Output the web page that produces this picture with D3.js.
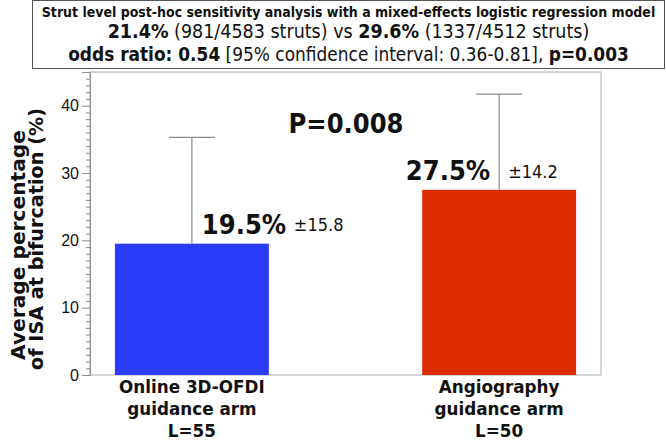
<!DOCTYPE html>
<html><head><meta charset="utf-8">
<script src="https://cdn.jsdelivr.net/npm/d3@7/dist/d3.min.js"></script>
<style>body{margin:0;background:#fff}svg{display:block}</style>
</head><body><svg id="c" width="666" height="440"></svg>
<script>
const categories = ["Online 3D-OFDI|guidance arm|L=55", "Angiography|guidance arm|L=50"];
const means = [19.5, 27.5];
const sds = [15.8, 14.2];
const meanLabels = ["19.5%", "27.5%"];
const sdLabels = ["±15.8", "±14.2"];
const colors = ["#2b3cf7", "#dc2b00"];
const yTicks = [0, 10, 20, 30, 40];
const pLabel = "P=0.008";

const svg = d3.select("#c");
const pL = 90, pR = 601, pT = 72, pB = 375;
const y = d3.scaleLinear().domain([0, 45]).range([pB, pT]);
const x = d3.scaleBand().domain(categories).range([pL, pR]).paddingInner(0.499).paddingOuter(0.081);
const gray = "#8c8c8c";
const bf = "DejaVu Sans Condensed, DejaVu Sans, sans-serif";
const wf = "DejaVu Sans, Verdana, sans-serif";

function fit(sel, target) {
  const w = sel.node().getComputedTextLength();
  const fs = parseFloat(sel.attr("font-size"));
  sel.attr("font-size", fs * target / w);
}

// Title box
svg.append("rect").attr("x", 32.5).attr("y", 0.5).attr("width", 632).attr("height", 68)
  .attr("fill", "#fff").attr("stroke", "#555").attr("stroke-width", 1);
const cx = 348.5;
const t1 = svg.append("text").attr("x", cx).attr("y", 16.5).attr("text-anchor", "middle")
  .attr("font-family", bf).attr("font-weight", "bold").attr("font-size", 13).attr("fill", "#111")
  .text("Strut level post-hoc sensitivity analysis with a mixed-effects logistic regression model");
fit(t1, 614);
const t2 = svg.append("text").attr("x", cx).attr("y", 38).attr("text-anchor", "middle")
  .attr("font-family", bf).attr("font-size", 17).attr("fill", "#111");
t2.append("tspan").attr("font-weight", "bold").text("21.4%");
t2.append("tspan").text(" (981/4583 struts) vs ");
t2.append("tspan").attr("font-weight", "bold").text("29.6%");
t2.append("tspan").text(" (1337/4512 struts)");
fit(t2, 482);
const t3 = svg.append("text").attr("x", cx).attr("y", 61).attr("text-anchor", "middle")
  .attr("font-family", bf).attr("font-size", 17).attr("fill", "#111");
t3.append("tspan").attr("font-weight", "bold").text("odds ratio: 0.54");
t3.append("tspan").text(" [95% confidence interval: 0.36-0.81], ");
t3.append("tspan").attr("font-weight", "bold").text("p=0.003");
fit(t3, 561);

// Frame
svg.append("rect").attr("x", pL).attr("y", pT).attr("width", pR - pL).attr("height", pB - pT)
  .attr("fill", "none").attr("stroke", "#aaa").attr("stroke-width", 1);

// Minor ticks
const minor = d3.range(0, 45, 1).filter(v => v % 10 !== 0);
svg.append("g").selectAll("line").data(minor).join("line")
  .attr("x1", pL - 4).attr("x2", pL).attr("y1", d => y(d) + 0.5).attr("y2", d => y(d) + 0.5)
  .attr("stroke", gray).attr("stroke-width", 1);

// Y axis
const ya = svg.append("g").attr("transform", `translate(${pL},0)`)
  .call(d3.axisLeft(y).tickValues(yTicks).tickSize(8).tickPadding(3));
ya.select(".domain").attr("stroke", gray);
ya.selectAll(".tick line").attr("stroke", gray);
ya.selectAll(".tick text").attr("font-family", "Liberation Sans, Arial, sans-serif").attr("font-size", 16).attr("fill", "#111");

// Y label
const yl1 = svg.append("text").attr("transform", "translate(25,245) rotate(-90)")
  .attr("text-anchor", "middle").attr("font-family", wf).attr("font-weight", "bold").attr("font-size", 19).attr("fill", "#111")
  .text("Average percentage");
fit(yl1, 230);
const yl2 = svg.append("text").attr("transform", "translate(43,239) rotate(-90)")
  .attr("text-anchor", "middle").attr("font-family", wf).attr("font-weight", "bold").attr("font-size", 19).attr("fill", "#111")
  .text("of ISA at bifurcation (%)");
fit(yl2, 262);

// Bars
svg.append("g").selectAll("rect").data(categories).join("rect")
  .attr("x", d => x(d)).attr("width", x.bandwidth())
  .attr("y", (d, i) => y(means[i])).attr("height", (d, i) => y(0) - y(means[i]))
  .attr("fill", (d, i) => colors[i]);

// Error bars
const eb = svg.append("g").attr("stroke", gray).attr("stroke-width", 1.2);
categories.forEach((c, i) => {
  const xc = x(c) + x.bandwidth() / 2;
  eb.append("line").attr("x1", xc).attr("x2", xc).attr("y1", y(means[i])).attr("y2", y(means[i] + sds[i]));
  eb.append("line").attr("x1", xc - 23).attr("x2", xc + 23).attr("y1", y(means[i] + sds[i])).attr("y2", y(means[i] + sds[i]));
  svg.append("text").attr("x", xc + 10).attr("y", y(means[i]) - 10)
    .attr("font-family", bf).attr("font-weight", "bold").attr("font-size", 27).attr("fill", "#111")
    .attr("text-anchor", i === 0 ? "start" : "end").attr("dx", i === 0 ? 0 : -19)
    .text(meanLabels[i]);
  svg.append("text").attr("x", xc + (i === 0 ? 102 : 9)).attr("y", y(means[i]) - (i === 0 ? 13 : 12))
    .attr("font-family", bf).attr("font-size", 18).attr("fill", "#111").text(sdLabels[i]);
  const lines = c.split("|");
  const ct = svg.append("text").attr("text-anchor", "middle").attr("font-family", wf)
    .attr("font-weight", "bold").attr("font-size", 16.8).attr("fill", "#111");
  lines.forEach((l, j) => ct.append("tspan").attr("x", xc).attr("y", 393 + j * 22).text(l));
});

svg.append("text").attr("x", 346).attr("y", 133).attr("text-anchor", "middle")
  .attr("font-family", bf).attr("font-weight", "bold").attr("font-size", 27).attr("fill", "#111").text(pLabel);
</script></body></html>
